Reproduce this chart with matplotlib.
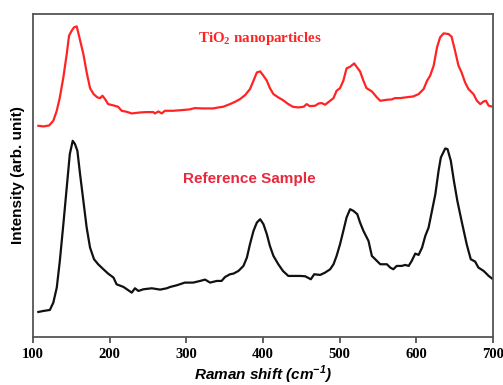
import matplotlib
matplotlib.use("Agg")
import matplotlib.pyplot as plt

# Raman shift (cm^-1) and intensities (arbitrary units)
red_x = [107, 113.5, 121, 126.5, 131, 135, 139.6, 144, 147, 150.5, 153.5, 157, 160.5, 165.7, 170, 174.4,
         179, 184, 187.5, 190.6, 194, 198, 205, 211, 215.7, 222, 228.8, 240, 248, 257, 259, 263.6, 268,
         272, 283, 294, 304, 311, 322, 335, 341.9, 348, 357, 363.7, 370, 376.7, 383, 387.6, 392, 396.3,
         400.6, 405, 409, 413.6, 420, 426, 433, 439, 446, 453, 457, 461, 468, 472.6, 476.8, 481, 487.6,
         492, 496, 500.5, 504.8, 509, 513.6, 519, 522, 526.6, 531, 535, 542, 548.6, 553, 561.6, 568,
         572, 579, 585.6, 596, 603, 609.5, 614, 618, 622.6, 627, 631, 635.6, 642, 646, 650.5, 655, 659,
         663.6, 668, 674.6, 679, 683.5, 687.8, 690.8, 694.4, 700]
red_y = [633, 631, 634, 648, 678, 718, 778, 848, 903, 918, 928, 931, 898, 848, 793, 746,
         728, 718, 716, 723, 713, 698, 694, 690, 678, 675, 670, 673, 674, 674, 670, 676, 670,
         678, 678, 680, 682, 686, 685, 685, 688, 690, 698, 705, 713, 725, 743, 768, 793, 796,
         783, 768, 746, 728, 718, 710, 698, 690, 688, 690, 698, 692, 693, 700, 701, 696, 708,
         716, 738, 746, 768, 805, 810, 820, 810, 796, 768, 746, 736, 718, 708, 711, 712,
         716, 716, 718, 721, 728, 743, 768, 783, 813, 868, 898, 910, 908, 900, 858, 813, 793,
         763, 743, 728, 708, 698, 706, 708, 693, 690]

black_x = [107, 113.5, 122, 126.5, 131, 135, 139.6, 144, 148, 151.8, 154.8, 157.9, 161.4, 165.7, 170,
           174.4, 179.6, 185, 191.8, 198, 205, 209, 218, 224.4, 228.8, 233, 237.5, 244, 255, 265.8,
           274.5, 279, 287.5, 298, 309, 318, 324.5, 331, 339.7, 346, 350.6, 357, 361.5, 368, 374.5,
           379, 383, 387.6, 392, 396.3, 400.6, 405, 409, 413.6, 420, 426, 433, 439.8, 448.5, 455,
           462.4, 466.8, 474.6, 481, 487.6, 492, 496, 500.5, 504.8, 509, 513.6, 518, 523, 526.6, 531,
           537.6, 542, 548.6, 553, 561.6, 566, 570, 574.4, 581, 585.6, 590, 594, 598.6, 603, 607.5,
           611.7, 616, 620.4, 624.8, 629, 632, 637.7, 640.7, 645, 649, 653.5, 659, 665.7, 671, 676.7,
           681, 687.8, 694.4, 700]
black_y = [75, 78, 81, 103, 148, 228, 338, 448, 548, 588, 578, 558, 488, 408, 328,
           268, 233, 218, 203, 190, 178, 158, 150, 140, 133, 146, 138, 143, 146, 142,
           146, 150, 155, 163, 163, 168, 172, 163, 168, 168, 180, 188, 190, 198, 213,
           238, 278, 318, 343, 353, 338, 308, 273, 243, 218, 198, 183, 183, 183, 182,
           173, 188, 186, 193, 203, 218, 243, 278, 318, 358, 383, 378, 368, 343, 318,
           288, 243, 228, 218, 218, 208, 203, 213, 213, 216, 213, 228, 250, 246, 268,
           303, 328, 378, 428, 498, 538, 565, 563, 528, 468, 408, 348, 278, 233, 226,
           208, 198, 183, 173]

x_ticks = [100, 200, 300, 400, 500, 600, 700]

fig = plt.figure(figsize=(5.03, 3.85), dpi=100)
ax = fig.add_axes([0.0656, 0.1247, 0.9145, 0.8389])

ax.plot(red_x, red_y, color='#ff2424', lw=1.6)
ax.plot(black_x, black_y, color='#111111', lw=1.6)

ax.set_xlim(100, 700)
ax.set_ylim(0, 968)
ax.set_xticks(x_ticks)
ax.set_xticklabels([str(t) for t in x_ticks], family='Liberation Serif', fontweight='bold', fontsize=10.5)
ax.set_yticks([])
ax.tick_params(axis='x', direction='out', length=4, width=1.2, color='#444444', pad=4)

for s in ax.spines.values():
    s.set_color('#555555')
    s.set_linewidth(1.3)

ax.set_ylabel('Intensity (arb. unit)', family='Liberation Sans', fontweight='bold', fontsize=11, labelpad=6)
ax.set_xlabel(r'Raman shift (cm$^{\mathregular{-1}}$)', family='Liberation Sans', fontweight='bold',
              fontstyle='italic', fontsize=11, labelpad=2)

ax.text(396, 894, 'TiO$_{\\mathregular{2}}$ nanoparticles', color='#ff2424', family='Liberation Serif',
        fontweight='bold', fontsize=10.8, ha='center', va='center')
ax.text(382, 473, 'Reference Sample', color='#e8283c', family='Liberation Sans', fontweight='bold',
        fontsize=11, ha='center', va='center')

fig.savefig('out.png', dpi=100)
